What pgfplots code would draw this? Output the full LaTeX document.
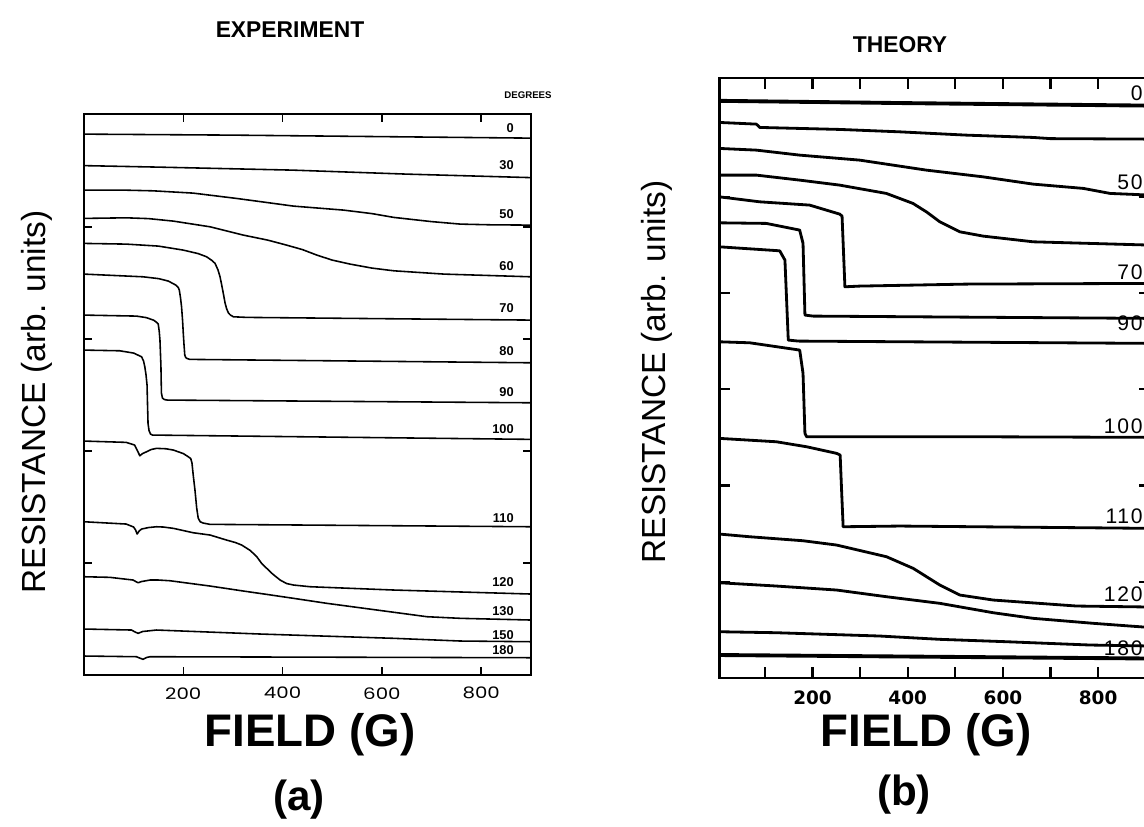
\documentclass[border=0pt]{standalone}
\usepackage{fontspec}
\setmainfont{Liberation Sans}
\usepackage{pgfplots}
\pgfplotsset{compat=1.18}
\newfontfamily\tickfontA[FakeStretch=1.25]{Poppins}
\newfontfamily\dejavu{DejaVu Sans}
\newfontfamily\spaced[LetterSpace=8]{Liberation Sans}
\tikzset{
  lc/.style={black, line width=0.9pt, line join=round},
  rc/.style={black, line width=1.6pt, line join=round},
  llab/.style={anchor=east, inner sep=0pt, font=\bfseries\fontsize{7.3}{7.3}\selectfont},
  rlab/.style={anchor=east, inner sep=0pt, font=\spaced\fontsize{12}{12}\selectfont},
}
\begin{document}
\begin{tikzpicture}[x=0.02cm,y=0.02cm]
% ---------------- (a) EXPERIMENT ----------------
\begin{axis}[at={(1.68cm,3.04cm)}, anchor=south west, scale only axis,
  width=8.94cm, height=11.22cm,
  xmin=0, xmax=900, ymin=0, ymax=561,
  xtick={200,400,600,800}, xticklabels={200,400,600,800},
  ytick={112,224,336,448}, yticklabels={},
  tick align=inside, major tick length=0.16cm,
  axis line style={line width=1pt},
  tick style={black, line width=0.9pt},
  xticklabel style={font=\tickfontA\fontsize{9}{9}\selectfont, inner sep=0pt, yshift=-0.24cm},
  clip=false]
\addplot[lc] coordinates {(0,541) (300,540) (600,538.5) (900,537)};
\addplot[lc] coordinates {(0,509.5) (150,508) (420,505) (650,501) (900,497.5)};
\addplot[lc] coordinates {(0,485) (80,485) (139,484.3) (220,482) (307,476.7) (370,472.5) (422,469) (523,465) (580,461.5) (624,457.7) (700,453.5) (758,451) (820,450.3) (900,450)};
\addplot[lc] coordinates {(0,456.7) (85,457.3) (130,456.5) (180,454) (254,448.3) (321,440) (370,435) (408,430) (440,425.5) (469,420) (500,415) (536,411) (580,407) (624,404.3) (725,401) (900,398.3)};
\addplot[lc] coordinates {(0,431.7) (85,431) (150,429) (200,425) (230,421.5) (247,418.3) (258,414.5) (264,411.7) (270,405) (274,398.3) (277,391) (280.6,381.7) (284,372.5) (287,366.7) (291,362) (295,360) (301,358.3) (328,357.7) (900,355)};
\addplot[lc] coordinates {(0,401) (119,398.3) (150,396.5) (170,394) (185,390) (190,387.5) (192,385) (194.5,377) (196.5,368.3) (198.5,355) (200,341.7) (201.5,330) (203,320) (205,317.5) (208,316.5) (213,315.7) (900,312.3)};
\addplot[lc] coordinates {(0,360) (105.7,359) (125,357.5) (140,355) (147,352.5) (149.5,351) (151.5,344) (153,335) (154,322) (155,308.3) (155.5,294) (156,282) (158,277) (162,275.5) (168,275) (900,272.3)};
\addplot[lc] coordinates {(0,325) (72,324.3) (100,322) (116,318.3) (120,314) (122.5,308.3) (125,300) (127,290) (128,270) (129,251.7) (131,244.5) (134,241) (138,240) (900,235.7)};
\addplot[lc] coordinates {(0,234) (85,232.7) (102,230) (106,226) (112.5,219.3) (118,221.5) (126,223.3) (135,225.5) (146,226.7) (165,226.3) (180,225) (200,221.5) (210,218.3) (215,216.5) (217.5,212) (220,200) (223.5,185) (227,167) (230,157) (234,153.3) (240,152) (253.7,150.7) (900,148.3)};
\addplot[lc] coordinates {(0,153.3) (85,151) (100,148) (104,145) (107,141) (111,144) (116,146) (130,147.5) (146,148.3) (160,148) (180,146.7) (200,144.5) (220,142.3) (254,140) (287,135) (305,132.5) (317.6,130) (335,124.5) (348,118.3) (358,111.5) (368,106.7) (380,101) (395,95) (408,91.5) (422,90) (455.5,88.3) (624,85) (900,81)};
\addplot[lc] coordinates {(0,98.3) (52,97.7) (99,95) (105,93.3) (109,92.3) (116,93.5) (133,95) (150,95) (173,94.3) (253.7,89) (321,84) (370,80.5) (422,76.7) (489,71.7) (590,65) (691,58.3) (758,56.7) (900,55)};
\addplot[lc] coordinates {(0,46) (95.6,45) (103,43) (109,41.7) (118,43.5) (146,45) (354.6,41) (624,36.7) (758,34) (900,33.3)};
\addplot[lc] coordinates {(0,19) (105.7,18.3) (112,17) (119,15.7) (126,17.5) (133,18.3) (900,17.3)};
\node[llab] at (axis cs:866,547) {0};
\node[llab] at (axis cs:866,510) {30};
\node[llab] at (axis cs:866,461) {50};
\node[llab] at (axis cs:866,409) {60};
\node[llab] at (axis cs:866,367) {70};
\node[llab] at (axis cs:866,324) {80};
\node[llab] at (axis cs:866,283) {90};
\node[llab] at (axis cs:866,246) {100};
\node[llab] at (axis cs:866,157) {110};
\node[llab] at (axis cs:866,93) {120};
\node[llab] at (axis cs:866,64) {130};
\node[llab] at (axis cs:866,40) {150};
\node[llab] at (axis cs:866,25) {180};
\end{axis}
% ---------------- (b) THEORY ----------------
\begin{axis}[at={(14.388cm,2.98cm)}, anchor=south west, scale only axis,
  width=8.626cm, height=12.0cm,
  xmin=4, xmax=910, ymin=0, ymax=600,
  xtick={100,200,...,900}, xticklabels={,200,,400,,600,,800,},
  ytick={96.3,192.6,289,385.2,481.5}, yticklabels={},
  tick align=inside, major tick length=0.22cm,
  axis line style={line width=1.5pt},
  tick style={black, line width=1.2pt},
  xticklabel style={font=\dejavu\bfseries\fontsize{10.5}{10.5}\selectfont, inner sep=0pt, yshift=-0.24cm}]
\addplot[rc, line width=2.2pt] coordinates {(4,577.3) (400,575) (910,572.5)};
\addplot[rc] coordinates {(4,555.7) (82,554) (89,550.7) (257,548.7) (383,546.3) (523,543) (663,540.7) (700,539.5) (910,539)};
\addplot[rc] coordinates {(4,529.7) (82,528) (173,523) (299,518) (439,508) (558,501.3) (663.5,494) (769,489.7) (825,484.7) (910,483)};
\addplot[rc] coordinates {(4,503) (82,503) (173,498) (257,493) (355,484.7) (411,474.7) (440,466) (467.4,456.3) (509.4,446.3) (558.5,442) (663.5,436.3) (910,433)};
\addplot[rc] coordinates {(4,481.3) (89,476.3) (194,473) (257,464) (262,462) (268,391.3) (299,392) (523,394) (910,394.7)};
\addplot[rc] coordinates {(4,455.3) (103,454.7) (173,448) (180,434.7) (184,363) (201,362) (910,359.7)};
\addplot[rc] coordinates {(4,431.3) (131,427.3) (142,418) (149,338) (170,337) (910,334.7)};
\addplot[rc] coordinates {(4,336.3) (68,335.3) (173,328) (180,304.7) (184,244.7) (187.6,241.3) (551.5,241.3) (910,240.7)};
\addplot[rc] coordinates {(4,239.7) (124,236.3) (187.6,231.3) (250.5,224.7) (258,223) (261,188) (264.3,151.3) (383,152) (910,149.7)};
\addplot[rc] coordinates {(4,144) (68,141.3) (180,137.3) (250.5,133) (355.4,121.3) (411.4,109.7) (467.4,93) (509.4,83) (579.5,78) (754.5,72) (910,71)};
\addplot[rc] coordinates {(4,95.3) (124,92) (250.5,88) (355.4,81.3) (467.4,74.7) (579.5,65.3) (663.5,59.7) (790,54.7) (866.6,52) (910,50.5)};
\addplot[rc] coordinates {(4,46.3) (124,45.3) (341,42) (467,38.7) (607.5,36.3) (783,33) (910,32)};
\addplot[rc, line width=2.2pt] coordinates {(4,23) (910,19.5)};
\node[rlab] at (axis cs:894,584.7) {0};
\node[rlab] at (axis cs:894,496.3) {50};
\node[rlab] at (axis cs:894,406.3) {70};
\node[rlab] at (axis cs:894,354.7) {90};
\node[rlab] at (axis cs:894,252) {100};
\node[rlab] at (axis cs:894,162) {110};
\node[rlab] at (axis cs:894,84) {120};
\node[rlab] at (axis cs:894,30) {180};
\end{axis}
% ---------------- titles and labels ----------------
\node[font=\bfseries\fontsize{13}{13}\selectfont] at (290,797) {EXPERIMENT};
\node[font=\bfseries\fontsize{13}{13}\selectfont] at (900,782) {THEORY};
\node[font=\bfseries\fontsize{5.5}{6}\selectfont] at (528,732) {DEGREES};
\node[rotate=90, font=\fontsize{19}{19}\selectfont] at (37,425) {RESISTANCE (arb. units)};
\node[rotate=90, font=\fontsize{19}{19}\selectfont] at (657,455) {RESISTANCE (arb. units)};
\node[font=\bfseries\fontsize{26}{26}\selectfont] at (310,92) {FIELD (G)};
\node[font=\bfseries\fontsize{26}{26}\selectfont] at (926,92) {FIELD (G)};
\node[font=\bfseries\fontsize{24}{24}\selectfont] at (299,27) {(a)};
\node[font=\bfseries\fontsize{24}{24}\selectfont] at (904,32) {(b)};
\pgfresetboundingbox
\path (0,0) rectangle (1144,827);
\end{tikzpicture}
\end{document}
